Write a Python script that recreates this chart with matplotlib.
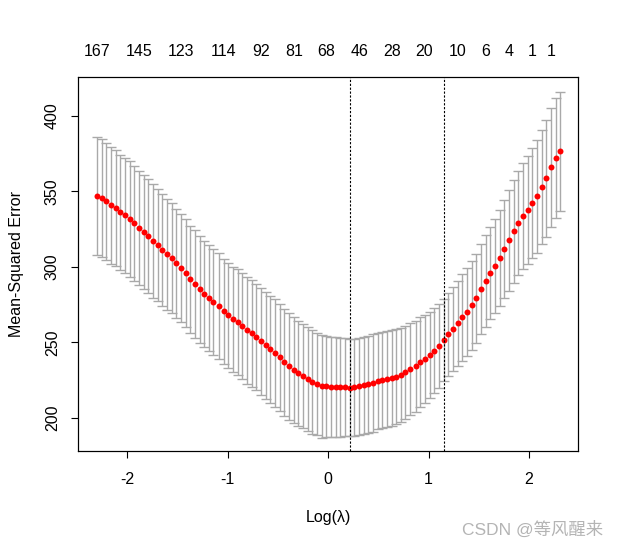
import matplotlib
matplotlib.use("Agg")
import matplotlib.pyplot as plt

# cv curve (glmnet style)
log_lambda = [-2.30, -2.25, -2.21, -2.16, -2.11, -2.07, -2.02, -1.97, -1.93, -1.88,
              -1.83, -1.79, -1.74, -1.69, -1.65, -1.60, -1.55, -1.51, -1.46, -1.41,
              -1.37, -1.32, -1.27, -1.23, -1.18, -1.14, -1.09, -1.04, -1.00, -0.95,
              -0.90, -0.86, -0.81, -0.76, -0.72, -0.67, -0.62, -0.58, -0.53, -0.48,
              -0.44, -0.39, -0.34, -0.30, -0.25, -0.20, -0.16, -0.11, -0.06, -0.02,
              0.03, 0.08, 0.12, 0.17, 0.22, 0.26, 0.31, 0.36, 0.40, 0.45,
              0.50, 0.54, 0.59, 0.64, 0.68, 0.73, 0.77, 0.82, 0.87, 0.91,
              0.96, 1.01, 1.05, 1.10, 1.15, 1.19, 1.24, 1.29, 1.33, 1.38,
              1.43, 1.47, 1.52, 1.57, 1.61, 1.66, 1.71, 1.75, 1.80, 1.85,
              1.89, 1.94, 1.99, 2.03, 2.08, 2.13, 2.17, 2.22, 2.27, 2.31]

mse = [347.0, 345.7, 343.5, 340.8, 338.9, 336.2, 334.2, 331.6, 328.9, 325.6,
       323.0, 320.3, 317.0, 314.4, 311.1, 308.4, 305.8, 302.5, 299.1, 295.8,
       291.9, 288.5, 285.2, 281.9, 279.3, 276.6, 274.0, 270.7, 268.0, 265.4,
       263.4, 260.7, 258.1, 256.1, 253.4, 250.8, 248.1, 245.5, 242.8, 240.2,
       236.9, 234.2, 231.6, 229.6, 227.6, 225.6, 223.6, 222.3, 221.0, 221.0,
       220.7, 220.3, 220.3, 220.3, 220.1, 220.3, 221.0, 221.6, 222.3, 223.2,
       224.5, 225.2, 225.8, 226.5, 227.2, 228.5, 230.3, 232.5, 234.2, 237.1,
       239.1, 241.7, 244.4, 247.7, 251.5, 255.4, 258.7, 262.7, 266.7, 270.0,
       274.6, 279.3, 285.2, 290.5, 295.8, 300.5, 305.8, 311.7, 317.7, 323.7,
       329.0, 333.6, 337.6, 342.2, 346.8, 352.8, 358.7, 366.0, 372.0, 376.6]

sd = [39.1, 39.1, 38.7, 38.7, 38.4, 38.1, 38.1, 38.4, 38.1, 37.7,
      37.7, 37.7, 37.7, 37.1, 37.1, 36.8, 36.4, 36.1, 35.8, 35.8,
      35.4, 35.8, 35.4, 35.1, 35.1, 35.1, 35.1, 34.8, 34.8, 34.8,
      35.1, 35.1, 35.4, 35.4, 35.1, 35.4, 35.4, 35.4, 35.8, 35.4,
      35.4, 35.4, 35.1, 34.8, 34.4, 34.4, 34.4, 33.8, 34.1, 33.4,
      33.2, 33.0, 32.7, 32.4, 32.1, 32.1, 32.2, 32.2, 32.2, 32.2,
      32.0, 31.9, 31.8, 31.6, 31.5, 31.2, 30.8, 30.4, 30.0, 29.7,
      29.2, 28.7, 28.2, 27.7, 27.2, 27.5, 27.8, 28.1, 28.8, 29.1,
      29.5, 29.5, 29.8, 30.5, 30.5, 31.1, 31.8, 32.5, 33.4, 34.1,
      34.4, 35.1, 35.8, 36.4, 37.4, 37.7, 38.7, 39.4, 39.7, 39.4]

# number of nonzero coefs shown on top, and which lambda they sit on
nz_labels = ["167", "145", "123", "114", "92", "81", "68", "46", "28", "20", "10", "6", "4", "1", "1"]
nz_index = [0, 9, 18, 27, 35, 42, 49, 56, 63, 70, 77, 83, 88, 93, 97]

idx_min = 54
idx_1se = 74

plt.rcParams["font.family"] = ["Liberation Sans", "DejaVu Sans"]

fig = plt.figure(figsize=(6.19, 5.49), dpi=100)
ax = fig.add_axes([0.126, 0.1785, 0.808, 0.6812])

ax.errorbar(log_lambda, mse, yerr=sd, fmt="none", ecolor="darkgrey",
            elinewidth=1.0, capsize=3.3, capthick=1.0)
ax.plot(log_lambda, mse, "o", color="red", markersize=4.3, markeredgewidth=0)

ax.axvline(log_lambda[idx_min], color="black", lw=0.8, ls=(0, (2, 1.5)))
ax.axvline(log_lambda[idx_1se], color="black", lw=0.8, ls=(0, (2, 1.5)))

ax.set_xlim(-2.488, 2.488)
ax.set_ylim(178.1, 425.8)
ax.set_xticks([-2, -1, 0, 1, 2])
ax.set_xticklabels(["-2", "-1", "0", "1", "2"])
ax.set_yticks([200, 250, 300, 350, 400])
ax.set_yticklabels(["200", "250", "300", "350", "400"], rotation=90, va="center")

ax.tick_params(axis="both", labelsize=11.5, length=5, width=0.8, direction="out")
ax.tick_params(axis="x", pad=10)
ax.tick_params(axis="y", pad=8)
for s in ax.spines.values():
    s.set_linewidth(0.8)

ax.set_xlabel("Log(\u03bb)", fontsize=11.5, labelpad=17)
ax.set_ylabel("Mean-Squared Error", fontsize=11.5, labelpad=15)

top = ax.twiny()
top.set_xlim(ax.get_xlim())
top.set_xticks([log_lambda[i] for i in nz_index])
top.set_xticklabels(nz_labels)
top.tick_params(axis="x", length=0, labelsize=11.5, pad=13)

fig.text(0.975, 0.035, "CSDN @等风醒来", ha="right", va="center", fontsize=12.5,
         color="#b4b4b4", family=["Liberation Sans", "Noto Sans CJK SC"])

fig.savefig("out.png", dpi=100)
